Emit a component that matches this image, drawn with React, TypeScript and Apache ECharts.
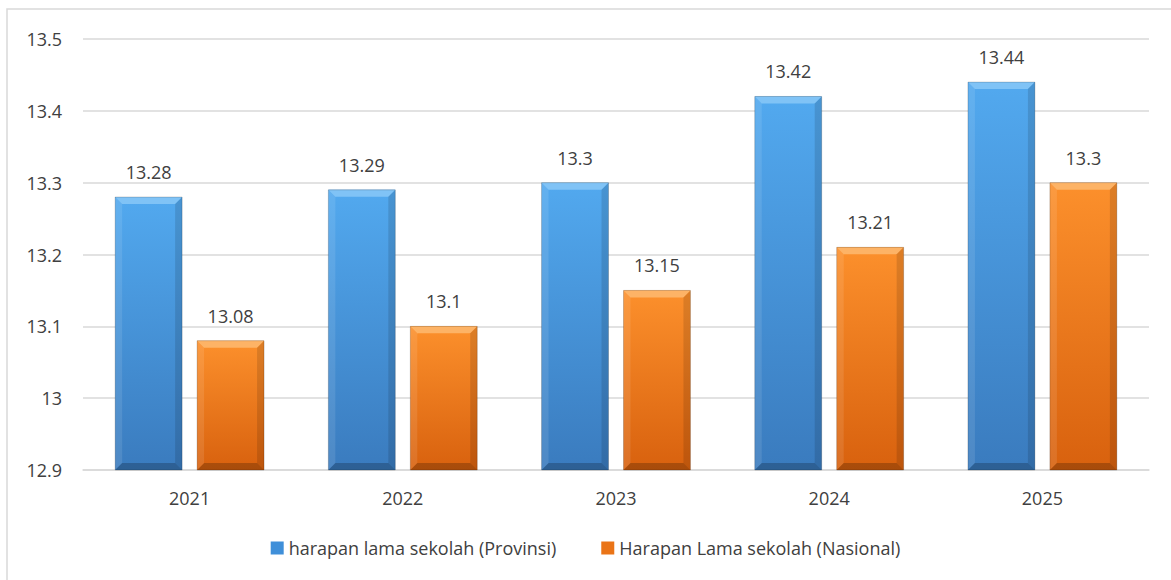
import React, { useEffect, useRef } from "react";
import * as echarts from "echarts";

const categories = ["2021", "2022", "2023", "2024", "2025"];
const provinsi = [13.28, 13.29, 13.3, 13.42, 13.44];
const nasional = [13.08, 13.1, 13.15, 13.21, 13.3];
const seriesNames = ["harapan lama sekolah (Provinsi)", "Harapan Lama sekolah (Nasional)"];
const yMin = 12.9;
const yMax = 13.5;

const FONT = "'Open Sans', 'Noto Sans', sans-serif";

const palettes = [
  { top: "#52A9EF", bottom: "#3A7BBE", bevel: "#80C3F6", legend: "#3F8FD9" },
  { top: "#FC902C", bottom: "#D8610E", bevel: "#FDB366", legend: "#EA7417" },
];

function makeRender(seriesIndex: number) {
  const pal = palettes[seriesIndex];
  return (params: any, api: any) => {
    const idx = api.value(0);
    const val = api.value(1);
    const band = api.size([1, 0])[0];
    const bw = band * 0.314;
    const gap = 15;
    const [cx, yT] = api.coord([idx, val]);
    const yB = api.coord([idx, yMin])[1];
    const center = cx + (seriesIndex === 0 ? -1 : 1) * (bw + gap) / 2;
    const x0 = center - bw / 2;
    const x1 = center + bw / 2;
    const b = 7;
    const h = yB - yT;
    return {
      type: "group",
      children: [
        {
          type: "rect",
          shape: { x: x0, y: yT, width: bw, height: h },
          style: {
            fill: new echarts.graphic.LinearGradient(0, 0, 0, 1, [
              { offset: 0, color: pal.top },
              { offset: 1, color: pal.bottom },
            ]),
          },
        },
        {
          type: "polygon",
          shape: { points: [[x0, yT], [x1, yT], [x1 - b, yT + b], [x0 + b, yT + b]] },
          style: { fill: pal.bevel },
        },
        {
          type: "polygon",
          shape: { points: [[x0, yT], [x0 + b, yT + b], [x0 + b, yB - b], [x0, yB]] },
          style: { fill: "rgba(255,255,255,0.10)" },
        },
        {
          type: "polygon",
          shape: { points: [[x1, yT], [x1 - b, yT + b], [x1 - b, yB - b], [x1, yB]] },
          style: { fill: "rgba(0,0,0,0.12)" },
        },
        {
          type: "polygon",
          shape: { points: [[x0, yB], [x0 + b, yB - b], [x1 - b, yB - b], [x1, yB]] },
          style: { fill: "rgba(0,0,0,0.22)" },
        },
        {
          type: "rect",
          shape: { x: x0, y: yT, width: bw, height: h },
          style: { fill: "none", stroke: "rgba(0,0,0,0.18)", lineWidth: 1 },
        },
        {
          type: "text",
          x: center,
          y: yT - 16,
          style: {
            text: String(val),
            fill: "#404040",
            font: `18px ${FONT}`,
            align: "center",
            verticalAlign: "bottom",
          },
        },
      ],
    };
  };
}

export default function App() {
  const ref = useRef<HTMLDivElement>(null);
  useEffect(() => {
    document.body.style.margin = "0";
    const chart = echarts.init(ref.current!, null, { renderer: "svg" });
    chart.setOption({
      animation: false,
      textStyle: { fontFamily: FONT },
      graphic: [
        {
          type: "rect",
          shape: { x: 7, y: 9, width: 1200, height: 600 },
          style: { fill: "none", stroke: "#d9d9d9", lineWidth: 1.5 },
          silent: true,
        },
      ],
      grid: { left: 83, right: 22, top: 39, bottom: 110 },
      legend: {
        bottom: 18,
        left: "center",
        itemWidth: 13,
        itemHeight: 13,
        itemGap: 45,
        icon: "rect",
        textStyle: { color: "#404040", fontSize: 18, fontFamily: FONT },
        data: [
          { name: seriesNames[0], itemStyle: { color: palettes[0].legend } },
          { name: seriesNames[1], itemStyle: { color: palettes[1].legend } },
        ],
      },
      xAxis: {
        type: "category",
        data: categories,
        axisLine: { lineStyle: { color: "#d9d9d9", width: 1.5 } },
        axisTick: { show: false },
        axisLabel: { color: "#404040", fontSize: 18, margin: 19, fontFamily: FONT },
      },
      yAxis: {
        type: "value",
        min: yMin,
        max: yMax,
        interval: 0.1,
        axisLine: { show: false },
        axisTick: { show: false },
        axisLabel: {
          color: "#404040",
          fontSize: 18,
          margin: 21,
          fontFamily: FONT,
          formatter: (v: number) => String(Math.round(v * 10) / 10),
        },
        splitLine: { lineStyle: { color: "#d9d9d9", width: 1.5 } },
      },
      series: [
        {
          name: seriesNames[0],
          type: "custom",
          renderItem: makeRender(0),
          itemStyle: { color: palettes[0].legend },
          encode: { x: 0, y: 1 },
          data: provinsi.map((v, i) => [i, v]),
          z: 3,
        },
        {
          name: seriesNames[1],
          type: "custom",
          renderItem: makeRender(1),
          itemStyle: { color: palettes[1].legend },
          encode: { x: 0, y: 1 },
          data: nasional.map((v, i) => [i, v]),
          z: 3,
        },
      ],
    });
    return () => chart.dispose();
  }, []);
  return <div ref={ref} style={{ width: 1171, height: 580 }} />;
}
